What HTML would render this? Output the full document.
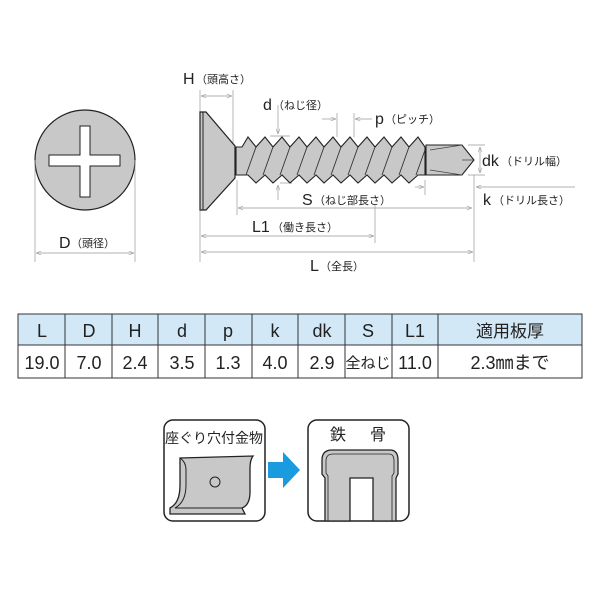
<!DOCTYPE html>
<html><head><meta charset="utf-8"><style>
body{margin:0;background:#fff;}
svg text{font-family:"Liberation Sans","Noto Sans CJK JP",sans-serif;fill:#222;}
.j{font-size:11px}
.b{font-size:16px}
</style></head><body>
<svg width="600" height="600" viewBox="0 0 600 600" xmlns="http://www.w3.org/2000/svg">
<defs>
<marker id="a" markerWidth="8" markerHeight="6" refX="8" refY="3" orient="auto-start-reverse"><path d="M0,0 L8,3 L0,6" fill="none" stroke="#999" stroke-width="0.8"/></marker>
</defs>
<circle cx="85" cy="160" r="50" fill="#c8c8c8" stroke="#222" stroke-width="1.2"/>
<path d="M80,126 H90 V155 H120 V166 H90 V197 H80 V166 H49 V155 H80 Z" fill="#fff" stroke="#222" stroke-width="1"/>
<g stroke="#999" stroke-width="0.7" fill="none">
<line x1="35" y1="160" x2="35" y2="262"/><line x1="135" y1="160" x2="135" y2="262"/>
<line x1="36" y1="253" x2="134" y2="253" marker-start="url(#a)" marker-end="url(#a)"/>
<line x1="200" y1="90" x2="200" y2="262"/><line x1="233" y1="90" x2="233" y2="148"/>
<line x1="201" y1="96" x2="232" y2="96" marker-start="url(#a)" marker-end="url(#a)"/>
<line x1="237" y1="180" x2="237" y2="215"/>
<line x1="238" y1="208" x2="472" y2="208" marker-start="url(#a)" marker-end="url(#a)"/>
<line x1="474" y1="175" x2="474" y2="262"/>
<line x1="375" y1="205" x2="375" y2="243"/>
<line x1="201" y1="236" x2="374" y2="236" marker-start="url(#a)" marker-end="url(#a)"/>
<line x1="201" y1="252" x2="473" y2="252" marker-start="url(#a)" marker-end="url(#a)"/>
<line x1="278" y1="105" x2="278" y2="134" marker-end="url(#a)"/>
<line x1="278" y1="200" x2="278" y2="185" marker-end="url(#a)"/>
<line x1="270" y1="136" x2="290" y2="136"/><line x1="280" y1="183" x2="292" y2="183"/>
<line x1="337" y1="113" x2="337" y2="137"/><line x1="354" y1="113" x2="354" y2="137"/>
<line x1="322" y1="119" x2="336" y2="119" marker-end="url(#a)"/>
<line x1="372" y1="119" x2="355" y2="119" marker-end="url(#a)"/>
<line x1="468" y1="145" x2="485" y2="145"/><line x1="468" y1="175" x2="485" y2="175"/>
<line x1="480" y1="147" x2="480" y2="173" marker-start="url(#a)" marker-end="url(#a)"/>
<line x1="425" y1="180" x2="425" y2="195"/>
<line x1="415" y1="187" x2="424" y2="187" marker-end="url(#a)"/>
<line x1="575" y1="187" x2="476" y2="187" marker-end="url(#a)"/>
</g>
<path d="M200,112 L200,210 L206,210 L235,178 L235,146 L206,112 Z" fill="#c8c8c8" stroke="#222" stroke-width="1.2"/>
<line x1="203" y1="112" x2="203" y2="210" stroke="#222"/>
<path d="M236,147 L242,147 L248,137 L256,147 L265,137 L273,147 L282,137 L290,147 L299,137 L307,147 L316,137 L324,147 L333,137 L341,147 L350,137 L358,147 L367,137 L375,147 L384,137 L392,147 L401,137 L409,147 L418,137 L425,147 L425,175 L418,175 L409,183 L401,175 L392,183 L384,175 L375,183 L367,175 L358,183 L350,175 L341,183 L333,175 L324,183 L316,175 L307,183 L299,175 L290,183 L282,175 L273,183 L265,175 L256,183 L248,175 L242,175 L236,175 Z" fill="#c8c8c8" stroke="#222" stroke-width="1.1"/>
<g stroke="#333" stroke-width="0.9">
<line x1="246" y1="175" x2="256" y2="147"/><line x1="263" y1="175" x2="273" y2="147"/><line x1="280" y1="175" x2="290" y2="147"/><line x1="297" y1="175" x2="307" y2="147"/><line x1="314" y1="175" x2="324" y2="147"/><line x1="331" y1="175" x2="341" y2="147"/><line x1="348" y1="175" x2="358" y2="147"/><line x1="365" y1="175" x2="375" y2="147"/><line x1="382" y1="175" x2="392" y2="147"/><line x1="399" y1="175" x2="409" y2="147"/><line x1="416" y1="175" x2="425" y2="150"/>
</g>
<path d="M426,145 L462,145 L474,160 L462,175 L426,175 Z" fill="#c8c8c8" stroke="#222" stroke-width="1.1"/>
<path d="M430,150 L462,145 M430,170 L462,175 M462,160 L474,160" stroke="#444" stroke-width="0.8" fill="none"/>
<text x="183" y="84" class="b">H</text><text x="196" y="83" class="j">（頭高さ）</text>
<text x="263" y="110" class="b">d</text><text x="273" y="109" class="j">（ねじ径）</text>
<text x="375" y="124" class="b">p</text><text x="385" y="123" class="j">（ピッチ）</text>
<text x="482" y="166" class="b">dk</text><text x="501" y="165" class="j">（ドリル幅）</text>
<text x="483" y="205" class="b">k</text><text x="493" y="204" class="j">（ドリル長さ）</text>
<text x="302" y="205" class="b">S</text><text x="314" y="204" class="j">（ねじ部長さ）</text>
<text x="252" y="232" class="b">L1</text><text x="272" y="231" class="j">（働き長さ）</text>
<text x="310" y="271" class="b">L</text><text x="320" y="270" class="j">（全長）</text>
<text x="59" y="248" class="b">D</text><text x="71" y="247" class="j">（頭径）</text>
<rect x="18" y="314" width="564" height="31" fill="#d3e8f6"/>
<g stroke="#333" stroke-width="1" fill="none">
<rect x="18" y="314" width="564" height="64"/>
<line x1="18" y1="345" x2="582" y2="345"/>
<line x1="65" y1="314" x2="65" y2="378"/><line x1="112" y1="314" x2="112" y2="378"/><line x1="158" y1="314" x2="158" y2="378"/><line x1="205" y1="314" x2="205" y2="378"/><line x1="252" y1="314" x2="252" y2="378"/><line x1="298" y1="314" x2="298" y2="378"/><line x1="345" y1="314" x2="345" y2="378"/><line x1="392" y1="314" x2="392" y2="378"/><line x1="438" y1="314" x2="438" y2="378"/>
</g>
<g font-size="18" text-anchor="middle">
<text x="42" y="337">L</text><text x="89" y="337">D</text><text x="135" y="337">H</text><text x="182" y="337">d</text><text x="228" y="337">p</text><text x="275" y="337">k</text><text x="322" y="337">dk</text><text x="368" y="337">S</text><text x="415" y="337">L1</text><text x="510" y="337" font-size="17">適用板厚</text>
<text x="42" y="369">19.0</text><text x="89" y="369">7.0</text><text x="135" y="369">2.4</text><text x="182" y="369">3.5</text><text x="228" y="369">1.3</text><text x="275" y="369">4.0</text><text x="322" y="369">2.9</text><text x="368" y="368" font-size="15">全ねじ</text><text x="415" y="369">11.0</text><text x="510" y="369">2.3㎜まで</text>
</g>
<rect x="164" y="420" width="101" height="101" rx="9" fill="#fff" stroke="#222" stroke-width="1.5"/>
<text x="214" y="443" font-size="14" text-anchor="middle">座ぐり穴付金物</text>
<path d="M180,458 L253,456 Q250,460 250,468 L250,492 Q250,505 242,508 L245,514 L170,514 L170,508 Q180,503 180,485 Z" fill="#c8c8c8" stroke="#222" stroke-width="1.3"/>
<path d="M180,458 Q186,462 186,470 L186,485 Q186,502 175,508 L242,508" fill="none" stroke="#222" stroke-width="1"/>
<circle cx="215" cy="482" r="5" fill="none" stroke="#222"/>
<path d="M268,462 H283 V452 L300,470 L283,488 V478 H268 Z" fill="#1a9be0"/>
<rect x="308" y="420" width="101" height="101" rx="9" fill="#fff" stroke="#222" stroke-width="1.5"/>
<text x="330" y="440" font-size="16">鉄</text><text x="370" y="440" font-size="16">骨</text>
<path d="M325,521 V478 L322,474 V460 Q322,450 332,450 H390 Q398,450 398,460 V474 L396,478 V521 H373 V478 H350 V521 Z" fill="#c8c8c8" stroke="#222" stroke-width="1.3"/>
<path d="M328,521 V476 L326,473 V461 Q326,454 333,454 H389 Q394,454 394,461 V473 L392,476 V521" fill="none" stroke="#222" stroke-width="0.8"/>
</svg>
</body></html>
